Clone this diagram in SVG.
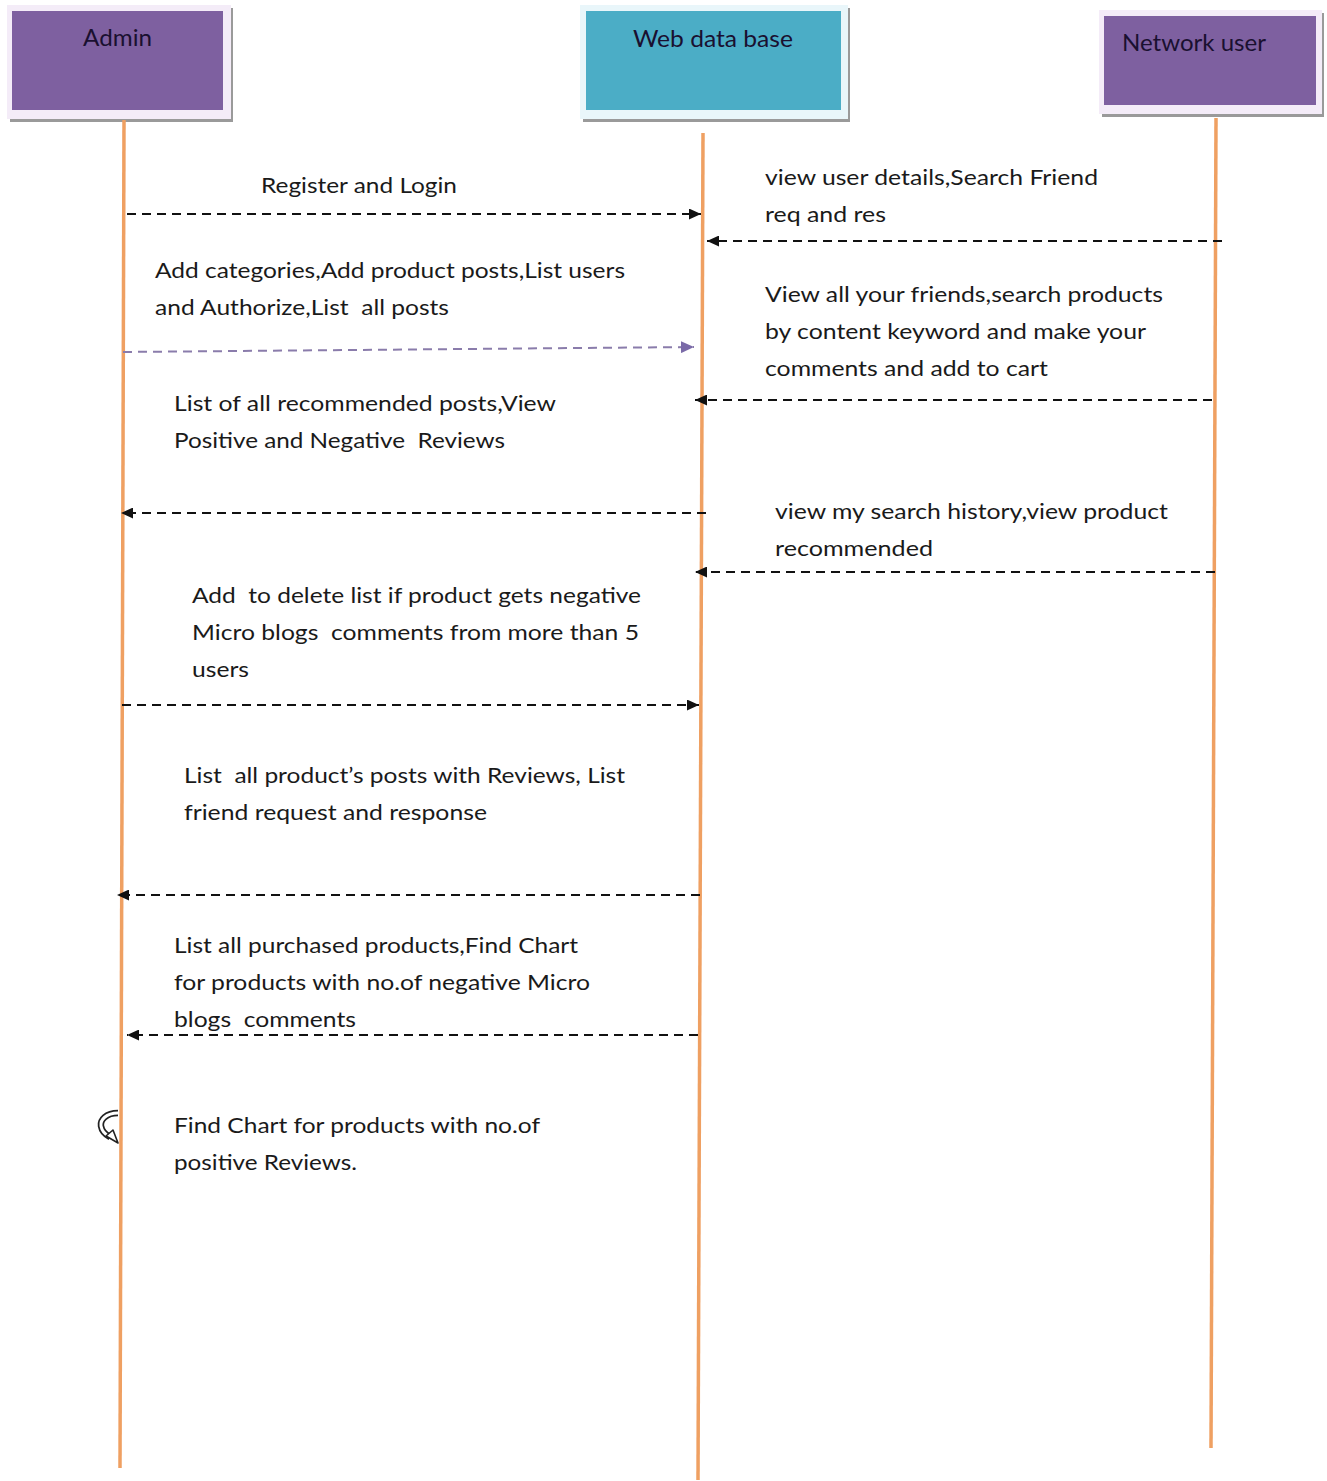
<svg xmlns="http://www.w3.org/2000/svg" width="1327" height="1481" viewBox="0 0 1327 1481">
<style>
.lbl{font-family:Lato,"Liberation Sans",sans-serif;font-size:22px;fill:#1a1a1a}
.hdr{font-family:Lato,"Liberation Sans",sans-serif;font-size:24px;fill:#1a1030}
.life{stroke:#EFA062;stroke-width:3.5;fill:none}
.msg{stroke:#111;stroke-width:2;stroke-dasharray:9 6;fill:none;marker-end:url(#ah)}
.msgp{stroke:#8a7cab;stroke-width:2;stroke-dasharray:9 6;fill:none;marker-end:url(#ahp)}
.shadow{fill:#9a9a9a}
</style>
<defs>
<marker id="ah" markerUnits="userSpaceOnUse" markerWidth="13" markerHeight="11" refX="12" refY="5.5" orient="auto">
<path d="M0,0 L12,5.5 L0,11 z" fill="#111"/>
</marker>
<marker id="ahp" markerUnits="userSpaceOnUse" markerWidth="14" markerHeight="12" refX="13" refY="6" orient="auto">
<path d="M0,0 L13,6 L0,12 z" fill="#7a6aa8"/>
</marker>
</defs>
<rect width="1327" height="1481" fill="#fff"/>

<g id="admin">
<rect class="shadow" x="10" y="8" width="223" height="114"/>
<rect x="7" y="5" width="224" height="114" fill="#F4ECF8"/>
<rect x="12" y="11" width="211" height="99" fill="#7E60A0"/>
<text class="hdr" x="83" y="46" textLength="69" lengthAdjust="spacingAndGlyphs">Admin</text>
</g>
<g id="webdb">
<rect class="shadow" x="583" y="8" width="267" height="114"/>
<rect x="580" y="5" width="268" height="114" fill="#E9F6FA"/>
<rect x="586" y="11" width="255" height="99" fill="#4BADC6"/>
<text class="hdr" x="633" y="47" textLength="160" lengthAdjust="spacingAndGlyphs">Web data base</text>
</g>
<g id="netuser">
<rect class="shadow" x="1102" y="13" width="222" height="104"/>
<rect x="1099" y="10" width="223" height="104" fill="#F4ECF8"/>
<rect x="1104" y="16" width="212" height="89" fill="#7E60A0"/>
<text class="hdr" x="1122" y="51" textLength="144" lengthAdjust="spacingAndGlyphs">Network user</text>
</g>

<g id="lifelines">
<line class="life" x1="124" y1="120" x2="120" y2="1468"/>
<line class="life" x1="703" y1="133" x2="698" y2="1480"/>
<line class="life" x1="1216" y1="118" x2="1211" y2="1448"/>
</g>

<g id="connectors">
<line class="msg" x1="127" y1="214" x2="701" y2="214"/>
<line class="msg" x1="1222" y1="241" x2="707" y2="241"/>
<line class="msgp" x1="123" y1="352" x2="694" y2="347"/>
<line class="msg" x1="1212" y1="400" x2="695" y2="400"/>
<line class="msg" x1="706" y1="513" x2="121" y2="513"/>
<line class="msg" x1="1215" y1="572" x2="695" y2="572"/>
<line class="msg" x1="122" y1="705" x2="699" y2="705"/>
<line class="msg" x1="700" y1="895" x2="117" y2="895"/>
<line class="msg" x1="698" y1="1035" x2="127" y2="1035"/>
<g id="selfloop">
<path d="M118,1113 C106,1113 100,1120 101,1126 C102,1132 106,1135 110,1137" fill="none" stroke="#222" stroke-width="6.5"/>
<path d="M118,1113 C106,1113 100,1120 101,1126 C102,1132 106,1135 110,1137" fill="none" stroke="#fff" stroke-width="3"/>
<path d="M106,1136 L118,1143 L113,1130 z" fill="#fff" stroke="#222" stroke-width="1.6" stroke-linejoin="round"/>
</g>
</g>

<g id="labels-left">
<text class="lbl" x="261" y="193" textLength="196" lengthAdjust="spacingAndGlyphs">Register and Login</text>
<text class="lbl" x="155" y="278" textLength="470" lengthAdjust="spacingAndGlyphs">Add categories,Add product posts,List users</text>
<text class="lbl" x="155" y="315" textLength="294" lengthAdjust="spacingAndGlyphs" xml:space="preserve">and Authorize,List  all posts</text>
<text class="lbl" x="174" y="411" textLength="382" lengthAdjust="spacingAndGlyphs">List of all recommended posts,View</text>
<text class="lbl" x="174" y="448" textLength="331" lengthAdjust="spacingAndGlyphs" xml:space="preserve">Positive and Negative  Reviews</text>
<text class="lbl" x="192" y="603" textLength="449" lengthAdjust="spacingAndGlyphs" xml:space="preserve">Add  to delete list if product gets negative</text>
<text class="lbl" x="192" y="640" textLength="447" lengthAdjust="spacingAndGlyphs" xml:space="preserve">Micro blogs  comments from more than 5</text>
<text class="lbl" x="192" y="677" textLength="57" lengthAdjust="spacingAndGlyphs">users</text>
<text class="lbl" x="184" y="783" textLength="441" lengthAdjust="spacingAndGlyphs" xml:space="preserve">List  all product’s posts with Reviews, List</text>
<text class="lbl" x="184" y="820" textLength="303" lengthAdjust="spacingAndGlyphs">friend request and response</text>
<text class="lbl" x="174" y="953" textLength="404" lengthAdjust="spacingAndGlyphs">List all purchased products,Find Chart</text>
<text class="lbl" x="174" y="990" textLength="416" lengthAdjust="spacingAndGlyphs">for products with no.of negative Micro</text>
<text class="lbl" x="174" y="1027" textLength="182" lengthAdjust="spacingAndGlyphs" xml:space="preserve">blogs  comments</text>
<text class="lbl" x="174" y="1133" textLength="366" lengthAdjust="spacingAndGlyphs">Find Chart for products with no.of</text>
<text class="lbl" x="174" y="1170" textLength="183" lengthAdjust="spacingAndGlyphs">positive Reviews.</text>
</g>
<g id="labels-right">
<text class="lbl" x="765" y="185" textLength="333" lengthAdjust="spacingAndGlyphs">view user details,Search Friend</text>
<text class="lbl" x="765" y="222" textLength="121" lengthAdjust="spacingAndGlyphs">req and res</text>
<text class="lbl" x="765" y="302" textLength="398" lengthAdjust="spacingAndGlyphs">View all your friends,search products</text>
<text class="lbl" x="765" y="339" textLength="381" lengthAdjust="spacingAndGlyphs">by content keyword and make your</text>
<text class="lbl" x="765" y="376" textLength="283" lengthAdjust="spacingAndGlyphs">comments and add to cart</text>
<text class="lbl" x="775" y="519" textLength="393" lengthAdjust="spacingAndGlyphs">view my search history,view product</text>
<text class="lbl" x="775" y="556" textLength="158" lengthAdjust="spacingAndGlyphs">recommended</text>
</g>
</svg>
